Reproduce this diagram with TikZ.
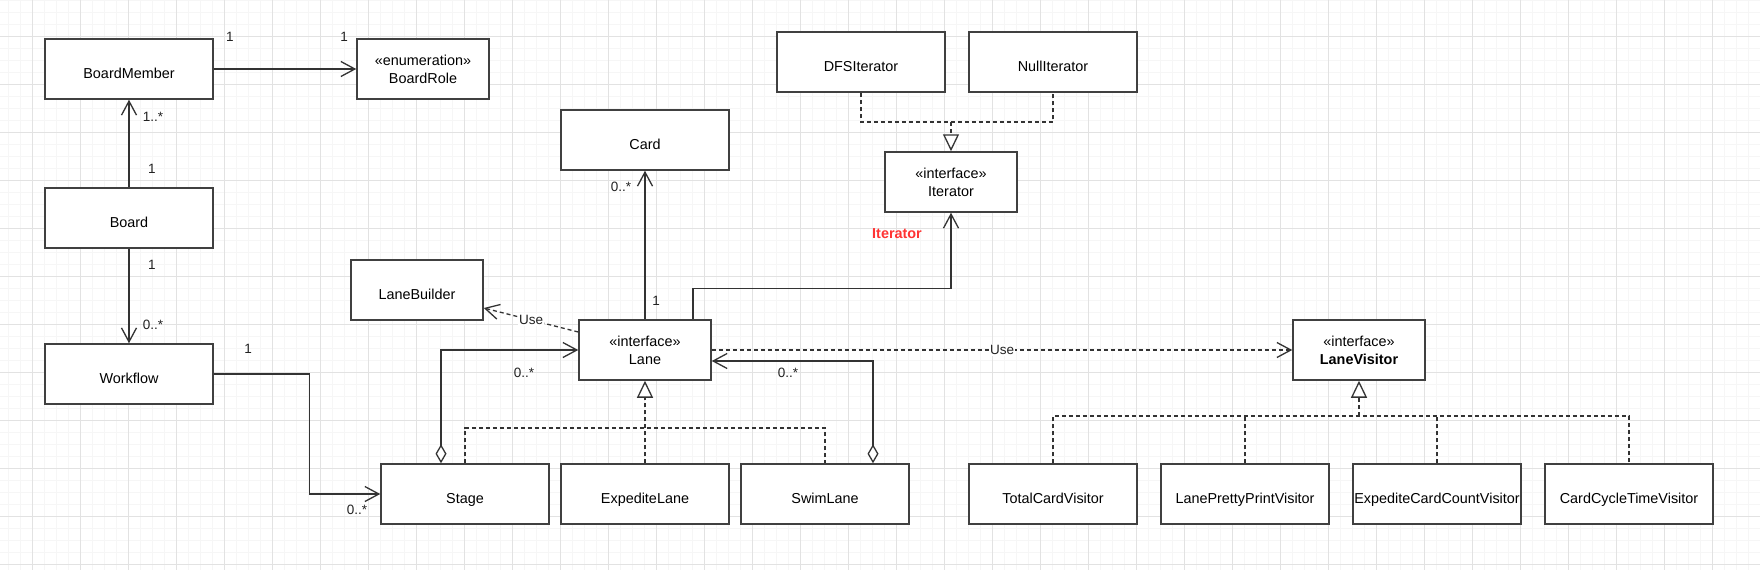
\documentclass[tikz,border=0pt]{standalone}
\usepackage{fontspec}
\setmainfont{Liberation Sans}
\usetikzlibrary{arrows.meta,calc}
\definecolor{boxc}{HTML}{404040}
\definecolor{linec}{HTML}{333333}
\definecolor{gridmaj}{HTML}{E2E2E2}
\definecolor{gridmin}{HTML}{F6F6F6}
\definecolor{redlab}{HTML}{FF3333}
\definecolor{labc}{HTML}{222222}
\tikzset{
  cls/.style={draw=boxc, line width=1.5pt, fill=white, minimum height=60pt, inner sep=0pt, align=center, font=\fontsize{14.4}{18}\selectfont},
  wide/.style={cls, minimum width=168pt},
  narrow/.style={cls, minimum width=132pt},
  oneline/.style={text height=19pt, text depth=1pt},
  conn/.style={draw=linec, line width=1.3pt},
  dashconn/.style={conn, dash pattern=on 4pt off 3pt},
  openarr/.style={-{Straight Barb[length=14pt,width=15pt,line width=1.3pt]}},
  realarr/.style={-{Triangle[open,length=17pt,width=16pt,line width=1.3pt,fill=white]}},
  aggarr/.style={{Diamond[open,length=19pt,width=11pt,line width=1.3pt,fill=white]}-{Straight Barb[length=14pt,width=15pt,line width=1.3pt]}},
  mult/.style={text=labc, inner sep=0pt, font=\fontsize{13.5}{16}\selectfont},
  uselab/.style={fill=white, inner sep=1pt, text=labc, font=\fontsize{13.5}{16}\selectfont}
}
\begin{document}
\begin{tikzpicture}[x=1pt,y=-1pt]
\useasboundingbox (0,0) rectangle (1760,570);
\fill[white] (0,0) rectangle (1760,570);
% grid
\foreach \x in {8,20,...,1760} \draw[gridmin, line width=0.7pt] (\x,0) -- (\x,570);
\foreach \y in {0,12,...,570} \draw[gridmin, line width=0.7pt] (0,\y) -- (1760,\y);
\foreach \x in {32,80,...,1760} \draw[gridmaj, line width=1pt] (\x,0) -- (\x,570);
\foreach \y in {36,84,...,570} \draw[gridmaj, line width=1pt] (0,\y) -- (1760,\y);

% classes
\node[wide, oneline] (bm) at (129,69) {BoardMember};
\node[narrow] (role) at (423,69) {«enumeration»\\BoardRole};
\node[wide, oneline] (board) at (129,218) {Board};
\node[wide, oneline] (wf) at (129,374) {Workflow};
\node[narrow, oneline] (lb) at (417,290) {LaneBuilder};
\node[wide, oneline] (card) at (645,140) {Card};
\node[narrow] (lane) at (645,350) {«interface»\\Lane};
\node[wide, oneline] (stage) at (465,494) {Stage};
\node[wide, oneline] (exp) at (645,494) {ExpediteLane};
\node[wide, oneline] (swim) at (825,494) {SwimLane};
\node[wide, oneline] (dfs) at (861,62) {DFSIterator};
\node[wide, oneline] (null) at (1053,62) {NullIterator};
\node[narrow] (iter) at (951,182) {«interface»\\Iterator};
\node[narrow] (lv) at (1359,350) {«interface»\\\textbf{LaneVisitor}};
\node[wide, oneline] (tcv) at (1053,494) {TotalCardVisitor};
\node[wide, oneline] (lpp) at (1245,494) {LanePrettyPrintVisitor};
\node[wide, oneline] (ecc) at (1437,494) {ExpediteCardCountVisitor};
\node[wide, oneline] (cct) at (1629,494) {CardCycleTimeVisitor};

% associations
\draw[conn, openarr] (bm.east) -- (role.west);
\node[mult] (m1) at (230,37) {1};
\node[mult] (m2) at (344,37) {1};

\draw[conn, openarr] (board.north) -- (bm.south);
\node[mult] (m3) at (153,117) {1..*};
\node[mult] (m4) at (152,169) {1};

\draw[conn, openarr] (board.south) -- (wf.north);
\node[mult] (m5) at (152,265) {1};
\node[mult] (m6) at (153,325) {0..*};

\draw[conn, openarr] (wf.east) -- ++(96,0) |- (stage.west);
\node[mult] (m7) at (248,349) {1};
\node[mult] (m8) at (357,510) {0..*};

\draw[conn, aggarr] ([xshift=-24pt]stage.north) |- (lane.west);
\node[mult] (m9) at (524,373) {0..*};

\draw[conn, aggarr] ([xshift=48pt]swim.north) |- ([yshift=-11pt]lane.east);
\node[mult] (m10) at (788,373) {0..*};

\draw[conn, openarr] (lane.north) -- (card.south);
\node[mult] (m11) at (621,187) {0..*};
\node[mult] (m12) at (656,301) {1};

\draw[conn, openarr] ([xshift=48pt]lane.north) -- ++(0,-31) -| (iter.south);
\node[text=redlab, inner sep=0pt, font=\fontsize{14.4}{18}\selectfont\bfseries] (itlab) at (897,234) {Iterator};

% dependencies
\draw[dashconn, openarr] ([yshift=18pt]lane.west) -- node[uselab, pos=0.5] (use1) {Use} ([yshift=-18pt]lb.east);
\draw[dashconn, openarr] (lane.east) -- node[uselab, pos=0.5] (use2) {Use} (lv.west);

% realizations: Lane
\coordinate (rj) at (645,428);
\draw[dashconn] (stage.north) |- (rj) -| (swim.north);
\draw[dashconn, realarr] (exp.north) -- (lane.south);

% realizations: Iterator
\coordinate (ij) at (951,122);
\draw[dashconn] (dfs.south) |- (ij) -| (null.south);
\draw[dashconn, realarr] (ij) -- (iter.north);

% realizations: LaneVisitor
\coordinate (vj) at (1359,416);
\draw[dashconn] (tcv.north) |- (vj) -| (cct.north);
\draw[dashconn] (lpp.north) -- (lpp.north |- vj);
\draw[dashconn] (ecc.north) -- (ecc.north |- vj);
\draw[dashconn, realarr] (vj) -- (lv.south);
\end{tikzpicture}
\end{document}
